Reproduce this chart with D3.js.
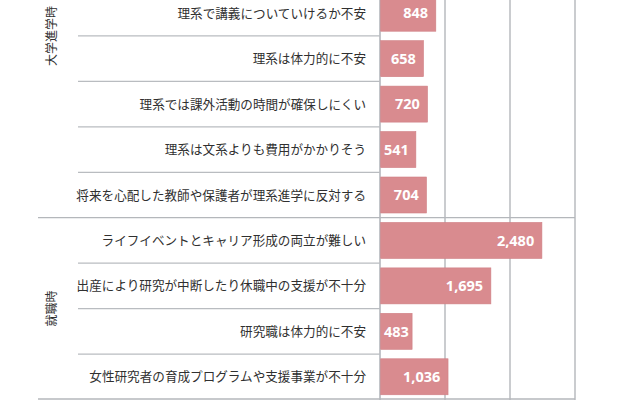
<!DOCTYPE html>
<html>
  <head>
    <meta charset="utf-8">
    <style>
      body {
        margin: 0;
        background: #fff;
      }
      svg {
        display: block;
      }
      .cat-label {
        font-family: "Noto Sans CJK JP", "Noto Sans", sans-serif;
        font-size: 12.6px;
        fill: #303030;
      }
      .group-label {
        font-family: "Noto Sans CJK JP", "Noto Sans", sans-serif;
        font-size: 12px;
        fill: #303030;
      }
      .value-label {
        font-family: "Noto Sans", "DejaVu Sans", sans-serif;
        font-size: 14.5px;
        font-weight: bold;
        fill: #fff;
      }
      .bar {
        fill: #d98b8f;
        stroke: #cf7f84;
        stroke-width: 0.6px;
      }
    </style>
  </head>
  <body>
    <script src="https://d3js.org/d3.v7.min.js"></script>
    <script>
      // visible part of the chart (the picture is cropped at the top)
      const categories = [
        "理系で講義についていけるか不安",
        "理系は体力的に不安",
        "理系では課外活動の時間が確保しにくい",
        "理系は文系よりも費用がかかりそう",
        "将来を心配した教師や保護者が理系進学に反対する",
        "ライフイベントとキャリア形成の両立が難しい",
        "出産により研究が中断したり休職中の支援が不十分",
        "研究職は体力的に不安",
        "女性研究者の育成プログラムや支援事業が不十分"
      ];
      const values = [848, 658, 720, 541, 704, 2480, 1695, 483, 1036];

      // group name, first row index, last row index (exclusive);
      // 大学進学時 continues above the cropped edge
      const groupNames = ["大学進学時", "就職時"];
      const groupStart = [-3, 5];
      const groupEnd = [5, 9];

      const xTicks = [0, 1000, 2000, 3000];

      const width = 640, height = 400;

      const svg = d3.select("body").append("svg")
          .attr("width", width)
          .attr("height", height);

      const x = d3.scaleLinear()
          .domain([0, 3000])
          .range([380, 575]);

      // row index -> y position of row top
      const row = d3.scaleLinear()
          .domain([0, categories.length])
          .range([-9.5, 399.5]);

      const rowH = row(1) - row(0),
          barH = 36;

      // vertical gridlines
      svg.append("g")
        .selectAll("line")
        .data(xTicks)
        .join("line")
          .attr("x1", d => x(d))
          .attr("x2", d => x(d))
          .attr("y1", 0)
          .attr("y2", height)
          .attr("stroke", d => d === 0 ? "#a9adb3" : "#b4b7bb")
          .attr("stroke-width", 1.4);

      // row separators within groups
      const inner = d3.range(1, categories.length)
          .filter(i => !groupStart.includes(i));

      svg.append("g")
        .selectAll("line")
        .data(inner)
        .join("line")
          .attr("x1", 78)
          .attr("x2", x(0))
          .attr("y1", d => row(d))
          .attr("y2", d => row(d))
          .attr("stroke", "#b9bcc0")
          .attr("stroke-width", 1.2);

      // group separators
      const groupLines = groupStart.filter(i => i > 0).concat([categories.length]);
      svg.append("g")
        .selectAll("line")
        .data(groupLines)
        .join("line")
          .attr("x1", 38)
          .attr("x2", x(3000))
          .attr("y1", d => Math.min(row(d), height - 1))
          .attr("y2", d => Math.min(row(d), height - 1))
          .attr("stroke", "#b4b7bb")
          .attr("stroke-width", 1.3);

      // bars
      svg.append("g")
        .selectAll("rect")
        .data(values)
        .join("rect")
          .attr("class", "bar")
          .attr("x", x(0) + 0.7)
          .attr("y", (d, i) => row(i) + (rowH - barH) / 2)
          .attr("width", d => x(d) - x(0))
          .attr("height", barH);

      // category labels
      svg.append("g")
        .selectAll("text")
        .data(categories)
        .join("text")
          .attr("class", "cat-label")
          .attr("x", 366)
          .attr("y", (d, i) => row(i) + rowH / 2)
          .attr("dy", "0.36em")
          .attr("text-anchor", "end")
          .text(d => d);

      // value labels inside bar end
      const fmt = d3.format(",");
      svg.append("g")
        .selectAll("text")
        .data(values)
        .join("text")
          .attr("class", "value-label")
          .attr("y", (d, i) => row(i) + rowH / 2)
          .attr("dy", "0.36em")
          .attr("text-anchor", "end")
          .text(d => fmt(d))
          .attr("x", function(d) {
            const w = this.getComputedTextLength();
            const end = Math.max(x(d) - 7, x(0) + w + 4);
            return Math.min(end, x(d) - 1);
          });

      // group labels, rotated
      svg.append("g")
        .selectAll("text")
        .data(groupNames)
        .join("text")
          .attr("class", "group-label")
          .attr("text-anchor", "middle")
          .attr("dy", "0.36em")
          .attr("transform", (d, i) => {
            const cy = (row(groupStart[i]) + row(groupEnd[i])) / 2;
            return `translate(52,${cy}) rotate(-90)`;
          })
          .text(d => d);
    </script>
  </body>
</html>
